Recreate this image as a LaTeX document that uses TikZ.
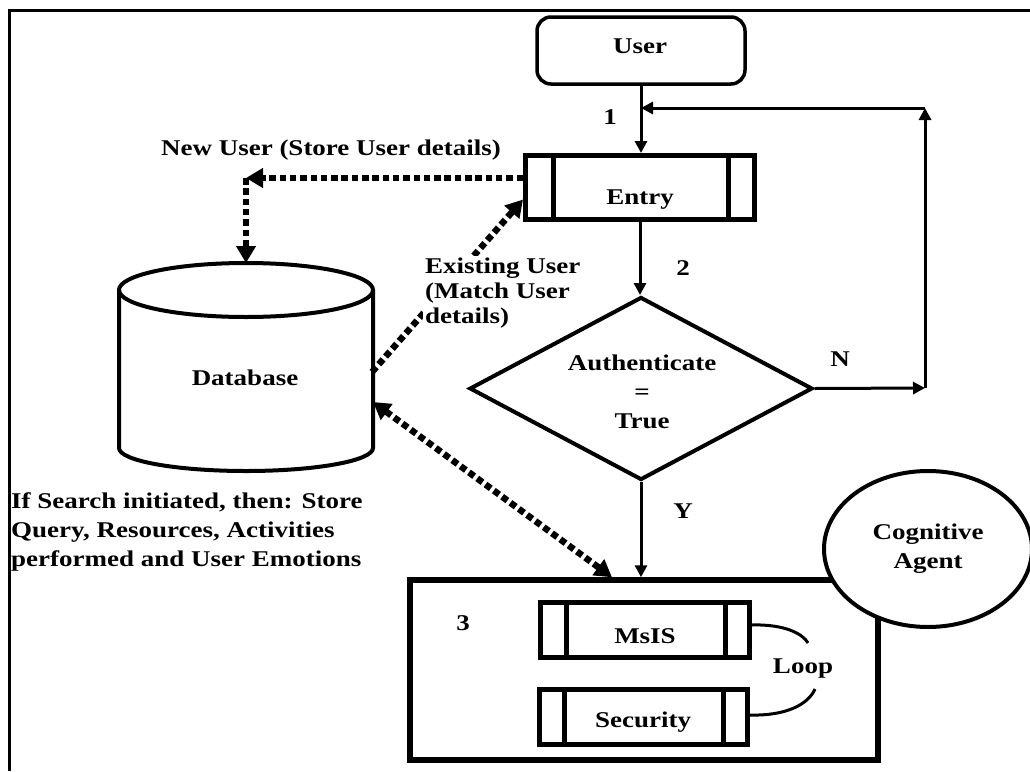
\documentclass[tikz,border=0pt]{standalone}
\usepackage{fontspec}
\setmainfont{Liberation Serif}[FakeStretch=1.2]
\usetikzlibrary{arrows.meta,shapes.geometric,calc}
\newcommand\dfont{\bfseries\fontsize{22.5}{29}\selectfont}
\begin{document}
\begin{tikzpicture}[x=1pt,y=-1pt,
  txt/.style={font=\dfont, inner sep=0pt},
  proc/.style={draw, line width=5pt, inner sep=0pt},
  bar/.style={line width=5pt},
  flow/.style={line width=3pt, -{Triangle[length=12pt,width=12pt]}},
  dots/.style={line width=6.5pt, dash pattern=on 6.5pt off 3.8pt},
  dtip/.style={-{Triangle[length=17pt,width=19pt]}},
  dboth/.style={{Triangle[length=17pt,width=19pt]}-{Triangle[length=17pt,width=19pt]}}]

\useasboundingbox (0,0) rectangle (1030,771);

% page frame
\draw[line width=3pt] (1030,10) -- (9,10) -- (9,771);

% user
\node[draw, line width=3.5pt, rounded corners=14pt, minimum width=208pt,
      minimum height=67pt, inner sep=0pt] (user) at (641,50.5) {};
\node[txt, anchor=base] (usert) at (640,53) {User};

% entry process
\node[proc, minimum width=229pt, minimum height=64pt] (entry) at (640,187.5) {};
\draw[bar] ([xshift=30pt]entry.north west) -- ([xshift=30pt]entry.south west);
\draw[bar] ([xshift=-29pt]entry.north east) -- ([xshift=-29pt]entry.south east);
\node[txt, anchor=base] (entryt) at (640,204) {Entry};

% database cylinder
\draw[line width=4pt] (246,290) ellipse [x radius=127pt, y radius=27pt];
\draw[line width=4pt] (119,290) -- (119,448)
      arc[start angle=180, end angle=360, x radius=127pt, y radius=23pt] -- (373,290);
\coordinate (dbtop) at (246,263);
\coordinate (dbR1) at (373,402);
\coordinate (dbR2) at (372,372);
\node[txt, anchor=base] (dbt) at (245,385) {Database};

% existing user lookup, partly hidden behind its label
\draw[dots, dtip] (dbR2) -- ([yshift=-12pt]entry.west);
\node[txt, align=left, fill=white, inner sep=2pt, anchor=west,
      font={\bfseries\fontsize{22.5}{25}\selectfont}] (exist) at (423,293)
      {Existing User\\(Match User\\details)};

% authentication decision
\node[draw, diamond, line width=4pt, minimum width=343pt, minimum height=183pt,
      inner sep=0pt] (auth) at (641,388.5) {};
\node[txt, align=center] (autht) at (642,392) {Authenticate\\=\\True};

% stage 3 box
\node[draw, line width=5.5pt, minimum width=468pt, minimum height=180pt,
      inner sep=0pt] (stage) at (644,670) {};
\node[txt, anchor=base] (three) at (463,630) {3};

\node[proc, minimum width=209pt, minimum height=55pt] (msis) at (645,630) {};
\draw[bar] ([xshift=28pt]msis.north west) -- ([xshift=28pt]msis.south west);
\draw[bar] ([xshift=-27pt]msis.north east) -- ([xshift=-27pt]msis.south east);
\node[txt, anchor=base] (msist) at (645,643) {MsIS};

\node[proc, minimum width=208pt, minimum height=55pt] (sec) at (643.5,717) {};
\draw[bar] ([xshift=27pt]sec.north west) -- ([xshift=27pt]sec.south west);
\draw[bar] ([xshift=-27pt]sec.north east) -- ([xshift=-27pt]sec.south east);
\node[txt, anchor=base] (sect) at (643,727) {Security};

% loop arcs
\coordinate (lu) at (808,643);
\coordinate (ll) at (815,689);
\draw[line width=3pt] ([yshift=5pt]msis.east) .. controls (785,624) and (803,634) .. (lu);
\draw[line width=3pt] ([yshift=2pt]sec.east) .. controls (785,716) and (808,705) .. (ll);
\node[txt, anchor=base] (loopt) at (803,673) {Loop};

% cognitive agent
\node[draw, ellipse, line width=4pt, fill=white, minimum width=208pt,
      minimum height=156pt, inner sep=0pt, align=center, font=\dfont] (agent)
      at (928,549) {Cognitive\\Agent};

% main flow
\draw[flow] (user.south) -- (user.south |- entry.north);
\node[txt, anchor=base] (n1) at (610,124) {1};
\draw[flow] (entry.south) -- (entry.south |- auth.north);
\node[txt, anchor=base] (n2) at (683,275) {2};
\draw[flow] (auth.south) -- (auth.south |- stage.north);
\node[txt, anchor=base] (nY) at (683,518) {Y};

% retry path
\coordinate (nr) at (925,388);
\coordinate (nt) at (925,108);
\coordinate (nl) at (641,108);
\draw[flow] (auth.east) -- (nr);
\draw[flow] (nr) -- (nt);
\draw[flow] (nt) -- (nl);
\node[txt, anchor=base] (nN) at (840,366) {N};

% new user registration
\coordinate (nuc) at (246,178);
\draw[dots, dtip] (entry.west |- nuc) -- (nuc);
\draw[dots, dtip] (nuc) -- (dbtop);
\node[txt, anchor=base] (newu) at (331,155) {New User (Store User details)};

% search logging
\draw[dots, dboth] (dbR1) -- ([xshift=-32pt]stage.north);
\node[txt, align=left, anchor=west] (store) at (11,532)
      {If Search initiated, then: Store\\Query, Resources, Activities\\performed and User Emotions};
\end{tikzpicture}
\end{document}
